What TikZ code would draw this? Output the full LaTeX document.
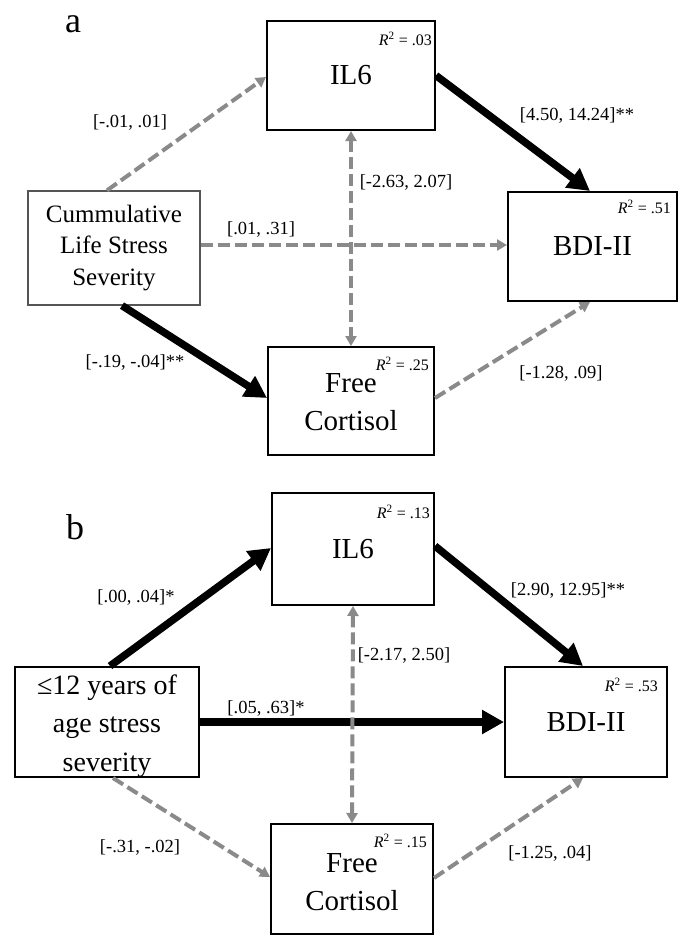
\documentclass[tikz,border=0pt]{standalone}
\usepackage{fontspec}
\setmainfont{Liberation Serif}
\usetikzlibrary{arrows.meta}
\definecolor{dgray}{RGB}{138,138,138}
\definecolor{bgray}{RGB}{85,85,85}
\begin{document}
\begin{tikzpicture}[x=1pt,y=-1pt,
  box/.style={draw=black,line width=2pt,inner sep=0pt,align=center,font=\fontsize{29}{38}\selectfont},
  thinbox/.style={draw=bgray,line width=1.2pt,inner sep=0pt,align=center,font=\fontsize{25}{31.5}\selectfont},
  boxtext/.style={inner sep=0pt,align=center,font=\fontsize{29}{38}\selectfont},
  r2/.style={anchor=east,inner sep=0pt,font=\fontsize{16}{18}\selectfont},
  lab/.style={inner sep=0pt,font=\fontsize{18.5}{20}\selectfont},
  panel/.style={inner sep=0pt,font=\fontsize{36}{40}\selectfont},
  thickarr/.style={draw=black,line width=7.5pt,-{Triangle[length=22pt,width=23pt]}},
  gdash/.style={color=dgray,line width=4pt,dash pattern=on 12pt off 5pt,-{Triangle[length=10pt,width=11pt]}},
  gboth/.style={color=dgray,line width=4pt,dash pattern=on 12pt off 5pt,{Triangle[length=10pt,width=11pt]}-{Triangle[length=10pt,width=11pt]}}]
\fill[white] (0,0) rectangle (681,935);
\useasboundingbox (0,0) rectangle (681,935);

% ---------- panel a ----------
\node[panel] (pa) at (73,24) {a};
\node[box, minimum width=168pt, minimum height=109pt] (IL6a) at (351,75.5) {IL6};
\node[box, minimum width=169pt, minimum height=109pt] (BDIa) at (592.5,246.5) {BDI-II};
\node[thinbox, minimum width=172pt, minimum height=114pt] (Cuma) at (114,248) {Cummulative\\Life Stress\\Severity};
\node[box, minimum width=166pt, minimum height=108pt] (Cora) at (351,401) {};
\node[boxtext] (Coratxt) at (351,402) {Free\\Cortisol};

\node[r2] (r2IL6a) at (432,39) {\textit{R}\textsuperscript{2} = .03};
\node[r2] (r2BDIa) at (671,207) {\textit{R}\textsuperscript{2} = .51};
\node[r2] (r2Cora) at (429,364) {\textit{R}\textsuperscript{2} = .25};

\draw[gdash] ([xshift=-7pt]Cuma.north) -- ([yshift=-1.5pt]IL6a.west);
\draw[thickarr] (IL6a.east) -- ([xshift=-2.5pt]BDIa.north);
\draw[gdash] ([yshift=3pt]Cuma.east) -- ([yshift=1.5pt]BDIa.west);
\draw[thickarr] ([xshift=8pt]Cuma.south) -- ([yshift=3pt]Cora.west);
\draw[gdash] ([yshift=3pt]Cora.east) -- ([xshift=-2.5pt]BDIa.south);
\draw[gboth] (IL6a.south) -- (Cora.north);

\node[lab] (la1) at (130,122) {[-.01, .01]};
\node[lab] (la2) at (577,116) {[4.50, 14.24]**};
\node[lab] (la3) at (406,183) {[-2.63, 2.07]};
\node[lab] (la4) at (261,229) {[.01, .31]};
\node[lab] (la5) at (135,362) {[-.19, -.04]**};
\node[lab] (la6) at (561,373) {[-1.28, .09]};

% ---------- panel b ----------
\node[panel] (pb) at (75,527) {b};
\node[box, minimum width=162pt, minimum height=112pt] (IL6b) at (353,549) {IL6};
\node[box, minimum width=162pt, minimum height=110pt] (BDIb) at (586,722) {BDI-II};
\node[box, minimum width=184pt, minimum height=110pt] (Stb) at (107,722) {};
\node[boxtext, font=\fontsize{28}{38.5}\selectfont] (Stbtxt) at (107,726) {≤12 years of\\age stress\\severity};
\node[box, minimum width=162pt, minimum height=110pt] (Corb) at (352,879) {};
\node[boxtext] (Corbtxt) at (352,882) {Free\\Cortisol};

\node[r2] (r2IL6b) at (430,512) {\textit{R}\textsuperscript{2} = .13};
\node[r2] (r2BDIb) at (658,685) {\textit{R}\textsuperscript{2} = .53};
\node[r2] (r2Corb) at (427,841) {\textit{R}\textsuperscript{2} = .15};

\draw[thickarr] ([xshift=3pt]Stb.north) -- ([yshift=1pt]IL6b.west);
\draw[thickarr] ([yshift=3pt]IL6b.east) -- ([xshift=-3pt]BDIb.north);
\draw[thickarr] (Stb.east) -- (BDIb.west);
\draw[gdash] ([xshift=6pt]Stb.south) -- ([yshift=2pt]Corb.west);
\draw[gdash] ([yshift=1pt]Corb.east) -- ([xshift=-3pt]BDIb.south);
\draw[gboth] (IL6b.south) -- (Corb.north);

\node[lab] (lb1) at (136,597) {[.00, .04]*};
\node[lab] (lb2) at (568,590) {[2.90, 12.95]**};
\node[lab] (lb3) at (404,655) {[-2.17, 2.50]};
\node[lab] (lb4) at (266,708) {[.05, .63]*};
\node[lab] (lb5) at (140,847) {[-.31, -.02]};
\node[lab] (lb6) at (550,853) {[-1.25, .04]};
\end{tikzpicture}
\end{document}
